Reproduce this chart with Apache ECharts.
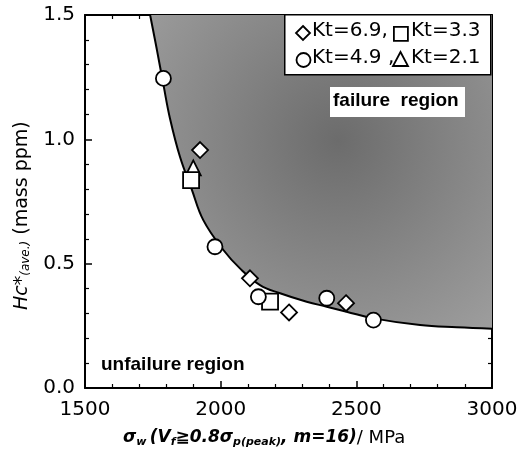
<!DOCTYPE html>
<html>
<head>
<meta charset="utf-8">
<script src="https://cdn.jsdelivr.net/npm/echarts@6/dist/echarts.min.js"></script>
<style>
  html, body { margin: 0; padding: 0; background: #fff; }
  #chart { width: 521px; height: 454px; }
</style>
</head>
<body>
<div id="chart"></div>
<script>
// boundary curve between failure / unfailure region
const boundaryX = [1740, 1765, 1789, 1813, 1850, 1893, 1936, 2010, 2071, 2145, 2219, 2317, 2391, 2464, 2563, 2735, 2870, 3000];
const boundaryY = [1.5, 1.36, 1.22, 1.085, 0.93, 0.80, 0.675, 0.555, 0.481, 0.414, 0.381, 0.347, 0.327, 0.307, 0.28, 0.253, 0.244, 0.238];

// measured points
const kt69X = [1924, 2108, 2252, 2462];        // diamonds
const kt69Y = [0.957, 0.441, 0.304, 0.341];
const kt33X = [1891, 2182];                    // squares
const kt33Y = [0.836, 0.347];
const kt49X = [1789, 1979, 2139, 2391, 2563];  // circles
const kt49Y = [1.245, 0.568, 0.367, 0.361, 0.273];
const kt21X = [1899];                          // triangles
const kt21Y = [0.885];

const xTicks = [1500, 2000, 2500, 3000];
const yTicks = ['0.0', '0.5', '1.0', '1.5'];

const zip = (xs, ys) => xs.map((x, i) => [x, ys[i]]);

const font = 'DejaVu Sans';
const markStyle = { color: '#fff', borderColor: '#000', borderWidth: 1.8, opacity: 1 };

const axisCommon = {
  type: 'value',
  axisLine: { show: true, onZero: false, lineStyle: { color: '#000', width: 2 } },
  axisTick: { show: true, inside: true, length: 7, lineStyle: { color: '#000', width: 1.5 } },
  minorTick: { show: true, splitNumber: 5, length: 4, lineStyle: { color: '#000', width: 1.2 } },
  splitLine: { show: false },
  minorSplitLine: { show: false }
};

const chart = echarts.init(document.getElementById('chart'));

chart.setOption({
  animation: false,
  backgroundColor: '#fff',
  grid: { left: 85, right: 29, top: 15, bottom: 66 },
  xAxis: [
    Object.assign({}, axisCommon, {
      min: 1500, max: 3000, interval: 500, position: 'bottom',
      axisLabel: {
        color: '#000', fontFamily: font, fontSize: 20, margin: 12,
        formatter: v => xTicks.includes(v) ? String(v) : ''
      }
    }),
    Object.assign({}, axisCommon, {
      min: 1500, max: 3000, interval: 500, position: 'top',
      axisLabel: { show: false }
    })
  ],
  yAxis: [
    Object.assign({}, axisCommon, {
      min: 0, max: 1.5, interval: 0.5, position: 'left',
      axisLabel: {
        color: '#000', fontFamily: font, fontSize: 20, margin: 10,
        formatter: v => yTicks[Math.round(v * 2)]
      }
    }),
    Object.assign({}, axisCommon, {
      min: 0, max: 1.5, interval: 0.5, position: 'right',
      axisLabel: { show: false }
    })
  ],
  series: [
    {
      name: 'boundary',
      type: 'line',
      data: zip(boundaryX, boundaryY),
      smooth: 0.4,
      symbol: 'none',
      lineStyle: { color: '#000', width: 2 },
      areaStyle: {
        origin: 'end',
        opacity: 1,
        color: {
          type: 'radial', x: 0.55, y: 0.4, r: 0.75,
          colorStops: [
            { offset: 0, color: '#6c6c6c' },
            { offset: 1, color: '#9c9c9c' }
          ]
        }
      },
      z: 1
    },
    {
      name: 'Kt=2.1', type: 'scatter', symbol: 'triangle', symbolSize: 15,
      data: zip(kt21X, kt21Y), itemStyle: markStyle, z: 3
    },
    {
      name: 'Kt=3.3', type: 'scatter', symbol: 'rect', symbolSize: 16,
      data: zip(kt33X, kt33Y), itemStyle: markStyle, z: 4
    },
    {
      name: 'Kt=4.9', type: 'scatter', symbol: 'circle', symbolSize: 15,
      data: zip(kt49X, kt49Y), itemStyle: markStyle, z: 5
    },
    {
      name: 'Kt=6.9', type: 'scatter', symbol: 'diamond', symbolSize: 16,
      data: zip(kt69X, kt69Y), itemStyle: markStyle, z: 6
    }
  ],
  graphic: [
    // legend box
    {
      type: 'rect', left: 284, top: 14, z: 10,
      shape: { width: 206, height: 60 },
      style: { fill: '#fff', stroke: '#000', lineWidth: 1.5 }
    },
    {
      type: 'polygon', z: 11,
      shape: { points: [[303, 26], [310, 33], [303, 40], [296, 33]] },
      style: { fill: '#fff', stroke: '#000', lineWidth: 1.8 }
    },
    {
      type: 'text', left: 312, top: 21, z: 11,
      style: { text: 'Kt=6.9,', fontFamily: font, fontSize: 20, fill: '#000' }
    },
    {
      type: 'rect', left: 393, top: 26, z: 11,
      shape: { width: 14, height: 14 },
      style: { fill: '#fff', stroke: '#000', lineWidth: 1.8 }
    },
    {
      type: 'text', left: 411, top: 21, z: 11,
      style: { text: 'Kt=3.3', fontFamily: font, fontSize: 20, fill: '#000' }
    },
    {
      type: 'circle', z: 11,
      shape: { cx: 303.5, cy: 60, r: 7 },
      style: { fill: '#fff', stroke: '#000', lineWidth: 1.8 }
    },
    {
      type: 'text', left: 312, top: 48, z: 11,
      style: { text: 'Kt=4.9 ,', fontFamily: font, fontSize: 20, fill: '#000' }
    },
    {
      type: 'polygon', z: 11,
      shape: { points: [[400.5, 52], [408, 66], [393, 66]] },
      style: { fill: '#fff', stroke: '#000', lineWidth: 1.8 }
    },
    {
      type: 'text', left: 411, top: 48, z: 11,
      style: { text: 'Kt=2.1', fontFamily: font, fontSize: 20, fill: '#000' }
    },
    // region labels
    {
      type: 'rect', left: 330, top: 87, z: 10,
      shape: { width: 135, height: 30 },
      style: { fill: '#fff' }
    },
    {
      type: 'text', left: 333, top: 91, z: 11,
      style: { text: 'failure  region', fontFamily: 'Liberation Sans', fontWeight: 'bold', fontSize: 19, fill: '#000' }
    },
    {
      type: 'text', left: 101, top: 355, z: 11,
      style: { text: 'unfailure region', fontFamily: 'Liberation Sans', fontWeight: 'bold', fontSize: 19, fill: '#000' }
    },
    // axis titles
    {
      type: 'text', left: 123, top: 429, z: 11,
      style: {
        text: '{i|σ}{s|w} {i|(V}{s|f}{i|≧0.8σ}{s|p(peak)}{i|, m=16)}{n|/ MPa}',
        rich: {
          i: { fontFamily: font, fontStyle: 'italic', fontSize: 17, fill: '#000', fontWeight: 'bold' },
          s: { fontFamily: font, fontStyle: 'italic', fontSize: 11, fill: '#000', fontWeight: 'bold', padding: [8, 0, 0, 0] },
          n: { fontFamily: font, fontSize: 18, fill: '#000' }
        }
      }
    },
    {
      type: 'text', x: 12, y: 310, rotation: Math.PI / 2, z: 11,
      style: {
        text: '{i|Hc*}{s|(ave.)}{n| (mass ppm)}',
        rich: {
          i: { fontFamily: font, fontStyle: 'italic', fontSize: 19, fill: '#000' },
          s: { fontFamily: font, fontStyle: 'italic', fontSize: 12, fill: '#000', padding: [8, 0, 0, 0] },
          n: { fontFamily: font, fontSize: 19, fill: '#000' }
        }
      }
    }
  ]
});

window.onresize = function () {
  chart.resize();
};
</script>
</body>
</html>
